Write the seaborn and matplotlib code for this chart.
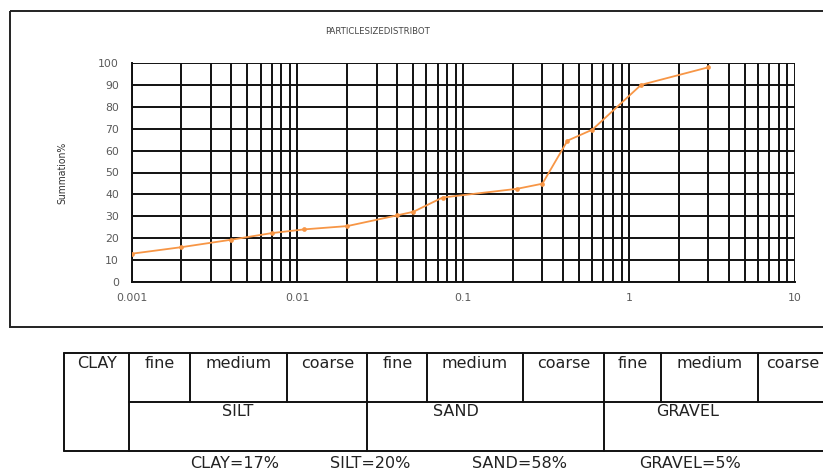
import matplotlib
matplotlib.use("Agg")
import matplotlib.pyplot as plt
import matplotlib.ticker as mticker
from matplotlib.patches import Rectangle
import seaborn as sns
import pandas as pd

# Cumulative particle size distribution (sieve + hydrometer)
sizes_mm = [0.001, 0.002, 0.004, 0.007, 0.011, 0.02, 0.04, 0.05, 0.075,
            0.212, 0.3, 0.425, 0.6, 1.18, 3.0]
passing_pct = [13.0, 16.0, 19.4, 22.4, 24.1, 25.6, 30.5, 32.1, 38.6,
               42.6, 44.9, 64.5, 69.5, 89.9, 97.9]

x_tick_values = [0.001, 0.01, 0.1, 1, 10]
x_tick_labels = ["0.001", "0.01", "0.1", "1", "10"]
y_tick_values = list(range(0, 101, 10))

title_text = "PARTICLESIZEDISTRIBOT"
y_label_text = "Summation%"

# Classification table below the chart
sub_labels = ["fine", "medium", "coarse"] * 3
group_labels = ["SILT", "SAND", "GRAVEL"]
summary_labels = ["CLAY=17%", "SILT=20%", "SAND=58%", "GRAVEL=5%"]

sns.set_theme(style="white")
plt.rcParams["font.family"] = ["DejaVu Sans"]

W, H = 823, 472
fig = plt.figure(figsize=(W / 100, H / 100), dpi=100)

# Overlay axes in pixel units for the frame and the table
over = fig.add_axes([0, 0, 1, 1], zorder=0)
over.set_xlim(0, W)
over.set_ylim(H, 0)
over.axis("off")

# Chart frame (runs off the right edge)
over.add_patch(Rectangle((10.5, 10.5), W + 20, 316, fill=False,
                         edgecolor="#222222", lw=1.4))

# Chart axes
ax = fig.add_axes([131.5 / W, (H - 282.3) / H, (795 - 131.5) / W, 219.6 / H],
                  zorder=2)
ax.patch.set_alpha(0)

df = pd.DataFrame({"size": sizes_mm, "passing": passing_pct})
sns.lineplot(data=df, x="size", y="passing", ax=ax, color="#F79646",
             marker="o", markersize=3.4, markeredgewidth=0, lw=1.3,
             zorder=5)

ax.set_xscale("log")
ax.set_xlim(0.001, 10)
ax.set_ylim(0, 100)
ax.xaxis.set_major_locator(mticker.FixedLocator(x_tick_values))
ax.xaxis.set_major_formatter(mticker.FixedFormatter(x_tick_labels))
ax.xaxis.set_minor_locator(mticker.LogLocator(base=10, subs=range(2, 10)))
ax.xaxis.set_minor_formatter(mticker.NullFormatter())
ax.yaxis.set_major_locator(mticker.FixedLocator(y_tick_values))

ax.grid(True, which="both", axis="x", color="#111111", lw=1.4)
ax.grid(True, which="major", axis="y", color="#111111", lw=1.4)
for side in ["top", "right"]:
    ax.spines[side].set_visible(False)
for side in ["left", "bottom"]:
    ax.spines[side].set_color("#111111")
    ax.spines[side].set_linewidth(1.4)

ax.tick_params(axis="both", which="major", direction="out", length=3,
               width=1.0, color="#111111", labelsize=7.8,
               labelcolor="#595959", pad=6)
ax.tick_params(axis="x", which="minor", length=0)
ax.tick_params(axis="x", which="major", pad=5)
ax.set_xlabel("")
ax.set_ylabel(y_label_text, fontsize=7.5, color="#333333",
              fontstretch="condensed", labelpad=22)

fig.text(378 / W, 1 - 32 / H, title_text, ha="center", va="center",
         fontsize=6.8, color="#444444", fontstretch="condensed")

# Table grid
lw_t = 1.4
col_edges = [129.3, 190, 287.3, 367.3, 427.3, 522.7, 604, 661, 757.7, W + 20]
group_edges = [129.3, 367.3, 604, W + 20]
top, mid, bot, left = 352.5, 401.5, 451, 64.5

over.plot([left, W + 20], [top, top], color="#111111", lw=lw_t)
over.plot([left, W + 20], [bot, bot], color="#111111", lw=lw_t)
over.plot([129.3, W + 20], [mid, mid], color="#111111", lw=lw_t)
over.plot([left, left], [top, bot], color="#111111", lw=lw_t)
for xe in col_edges[:-1]:
    y_end = bot if xe in group_edges else mid
    over.plot([xe, xe], [top, y_end], color="#111111", lw=lw_t)

txt_kw = dict(fontsize=11.5, color="#222222", va="center", ha="center")
over.text((left + 129.3) / 2, 363, "CLAY", **txt_kw)
for i, lab in enumerate(sub_labels):
    cx = (col_edges[i] + col_edges[i + 1]) / 2
    if i == len(sub_labels) - 1:
        cx = 793
    over.text(cx, 363, lab, **txt_kw)

for cx, lab in zip([238, 456, 688], group_labels):
    over.text(cx, 411.5, lab, **txt_kw)

for cx, lab in zip([235, 370, 520, 690], summary_labels):
    over.text(cx, 464, lab, **txt_kw)

fig.savefig("out.png", dpi=100)
